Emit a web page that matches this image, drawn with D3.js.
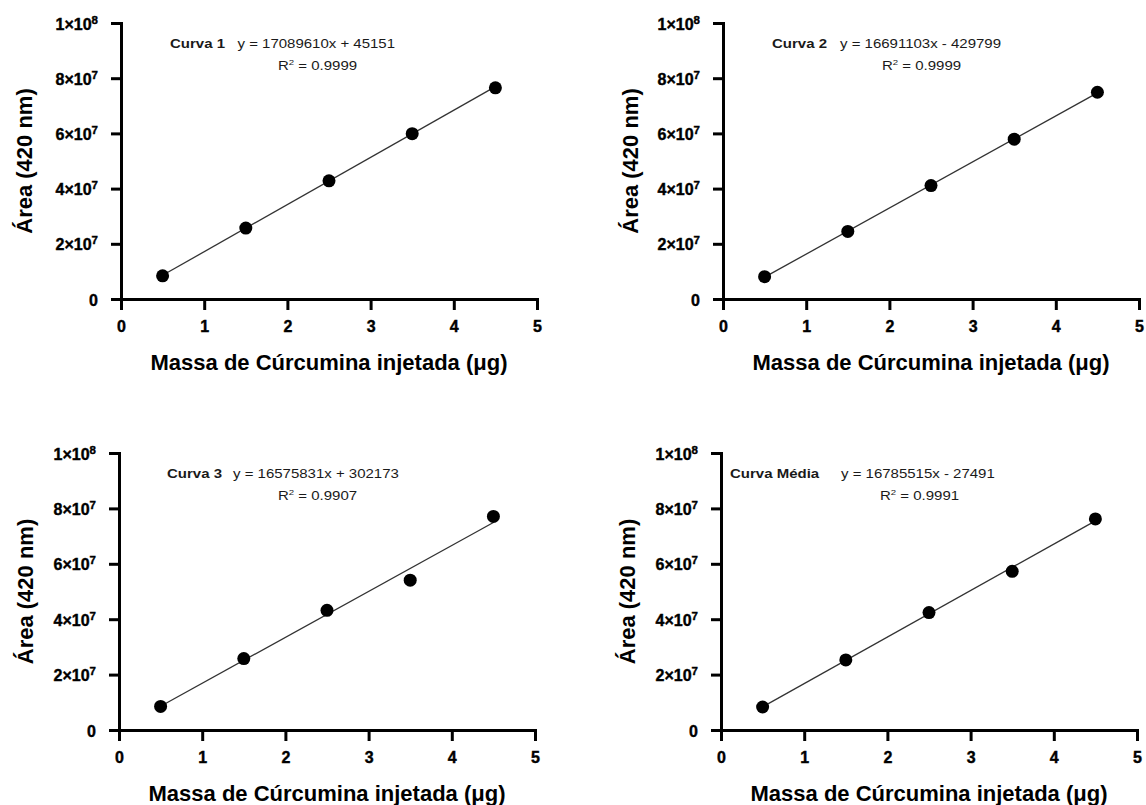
<!DOCTYPE html>
<html><head><meta charset="utf-8">
<script src="https://cdn.jsdelivr.net/npm/d3@7"></script>
<style>
body{margin:0;background:#fff}
svg{display:block}
.tick text{font-family:'Liberation Sans', Arial, Helvetica, sans-serif;font-weight:700;font-size:16px;fill:#000;stroke:#000;stroke-width:0.4px}
</style>
</head><body>
<svg id="chart" width="1146" height="805"></svg>
<script>
// ---- data ----
const doses = [0.5, 1.5, 2.5, 3.5, 4.5];
const curva1 = [8.4e6, 25.7e6, 42.8e6, 59.9e6, 76.5e6];
const curva2 = [8.1e6, 24.5e6, 41.1e6, 57.9e6, 74.9e6];
const curva3 = [8.5e6, 25.8e6, 43.2e6, 54.1e6, 77.1e6];
const curvaMedia = [8.3e6, 25.3e6, 42.4e6, 57.3e6, 76.2e6];
const seriesValues = [curva1, curva2, curva3, curvaMedia];
const panelNames = ["Curva 1", "Curva 2", "Curva 3", "Curva Média"];
const equations = ["y = 17089610x + 45151", "y = 16691103x - 429799", "y = 16575831x + 302173", "y = 16785515x - 27491"];
const r2Values = ["0.9999", "0.9999", "0.9907", "0.9991"];
const slopes = [17089610, 16691103, 16575831, 16785515];
const intercepts = [45151, -429799, 302173, -27491];
const xTicks = [0, 1, 2, 3, 4, 5];
const xTickLabels = ["0", "1", "2", "3", "4", "5"];
const yTicks = [0, 2e7, 4e7, 6e7, 8e7, 1e8];
const yTickMantissa = ["0", "2", "4", "6", "8", "1"];
const yTickExponent = ["", "7", "7", "7", "7", "8"];
const xTitle = "Massa de Cúrcumina injetada (μg)";
const yTitle = "Área (420 nm)";

// ---- layout ----
const layout = [
  {x0: 121, x1: 537, y0: 299, y1: 23, nameX: 170, eqX: 237.5, r2X: 278, annY: 48, yTitleX: 32, xTitleY: 370},
  {x0: 723, x1: 1139, y0: 299, y1: 23, nameX: 772, eqX: 840, r2X: 882, annY: 48, yTitleX: 638, xTitleY: 370},
  {x0: 119, x1: 535, y0: 730, y1: 453, nameX: 167, eqX: 233, r2X: 278, annY: 478, yTitleX: 33, xTitleY: 801},
  {x0: 721, x1: 1137, y0: 730, y1: 453, nameX: 730, eqX: 841, r2X: 880, annY: 478, yTitleX: 635, xTitleY: 801}
];

const FONT = "'Liberation Sans', Arial, Helvetica, sans-serif";
const svg = d3.select("#chart").style("font-family", FONT);

layout.forEach((L, i) => {
  const x = d3.scaleLinear().domain([0, 5]).range([L.x0, L.x1]);
  const y = d3.scaleLinear().domain([0, 1e8]).range([L.y0, L.y1]);
  const g = svg.append("g");

  // regression line
  const fitX = [doses[0], doses[doses.length - 1]];
  g.append("line")
    .attr("x1", x(fitX[0])).attr("y1", y(slopes[i] * fitX[0] + intercepts[i]))
    .attr("x2", x(fitX[1])).attr("y2", y(slopes[i] * fitX[1] + intercepts[i]))
    .attr("stroke", "#333").attr("stroke-width", 1.3);

  // points
  g.selectAll("circle.pt").data(doses.map((d, k) => [d, seriesValues[i][k]]))
    .join("circle").attr("class", "pt")
    .attr("cx", d => x(d[0])).attr("cy", d => y(d[1]))
    .attr("r", 6.5).attr("fill", "#000");

  // x axis
  const xa = g.append("g").attr("transform", `translate(0,${L.y0})`)
    .call(d3.axisBottom(x).tickValues(xTicks).tickFormat((d, k) => xTickLabels[k]).tickSize(11).tickSizeOuter(11).tickPadding(11));
  xa.select(".domain").attr("stroke", "#000").attr("stroke-width", 3);
  xa.selectAll(".tick line").attr("stroke", "#000").attr("stroke-width", 3);

  // y axis
  const ya = g.append("g").attr("transform", `translate(${L.x0},0)`)
    .call(d3.axisLeft(y).tickValues(yTicks).tickSize(10).tickSizeOuter(10).tickPadding(13));
  ya.select(".domain").attr("stroke", "#000").attr("stroke-width", 3);
  ya.selectAll(".tick line").attr("stroke", "#000").attr("stroke-width", 3);
  ya.selectAll(".tick text").each(function (d, k) {
    const t = d3.select(this).text("").attr("dy", "0.38em");
    if (yTickExponent[k] === "") {
      t.text(yTickMantissa[k]);
    } else {
      t.append("tspan").text(yTickMantissa[k] + "×10");
      t.append("tspan").style("font-size", "11.5px").attr("dy", -6).text(yTickExponent[k]);
    }
  });

  // annotation
  const ann = g.append("g").attr("fill", "#1a1a1a");
  ann.append("text").attr("transform", `translate(${L.nameX},${L.annY}) scale(1.2,1)`)
    .style("font-size", "12.5px").style("font-weight", "700").text(panelNames[i]);
  ann.append("text").attr("transform", `translate(${L.eqX},${L.annY}) scale(1.2,1)`)
    .style("font-size", "12.5px").text(equations[i]);
  const r2 = ann.append("text").attr("transform", `translate(${L.r2X},${L.annY + 22}) scale(1.2,1)`)
    .style("font-size", "12.5px");
  r2.append("tspan").text("R");
  r2.append("tspan").style("font-size", "8px").attr("dy", -5).text("2");
  r2.append("tspan").attr("dy", 5).text(" = " + r2Values[i]);

  // axis titles
  g.append("text").attr("x", (L.x0 + L.x1) / 2).attr("y", L.xTitleY)
    .attr("text-anchor", "middle").style("font-size", "22px").style("font-weight", "700").attr("fill", "#000")
    .text(xTitle);
  g.append("text").attr("transform", `translate(${L.yTitleX},${(L.y0 + L.y1) / 2}) rotate(-90)`)
    .attr("text-anchor", "middle").style("font-size", "22px").style("font-weight", "700").attr("fill", "#000")
    .text(yTitle);
});
</script>
</body></html>
